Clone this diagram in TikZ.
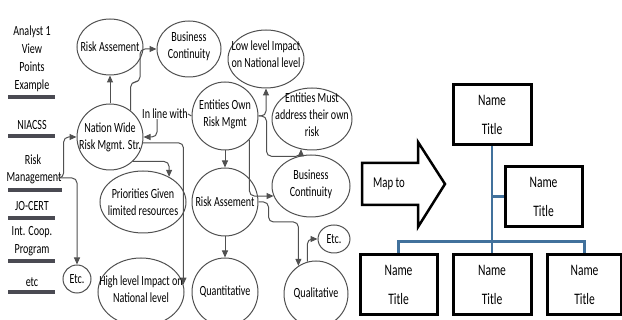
\documentclass[tikz,border=0pt]{standalone}
\usepackage{fontspec}
\setmainfont{Carlito}[FakeStretch=0.72]
\usetikzlibrary{shapes.geometric,arrows.meta}
\definecolor{lg}{HTML}{505050}
\definecolor{barc}{HTML}{4A4A52}
\definecolor{orgblue}{HTML}{41719C}
\begin{document}
\begin{tikzpicture}[x=1pt,y=-1pt,
  font=\fontsize{14}{17}\selectfont,
  ell/.style 2 args={draw=lg, line width=1pt, ellipse, inner sep=0pt, minimum width=#1pt, minimum height=#2pt},
  tx/.style={align=center, inner sep=0pt, text=black},
  col/.style={align=center, inner sep=0pt, text=black, font=\fontsize{14}{18}\selectfont},
  conn/.style={draw=lg, line width=1pt, -{Triangle[length=7pt,width=6pt]}, rounded corners=5pt},
  plainline/.style={draw=lg, line width=1pt},
  bar/.style={draw=barc, line width=4.5pt},
  obox/.style={draw=black, line width=3pt, minimum width=#1pt, minimum height=60pt, inner sep=0pt, align=center, font=\fontsize{16}{29}\selectfont},
  org/.style={draw=orgblue, line width=2.8pt},
]
\useasboundingbox (0,0) rectangle (622,320);

% ---------- left column ----------
\node[col] (a1) at (32,59) {Analyst 1\\View\\Points\\Example};
\draw[bar] (8,97) -- (55,97);
\node[col] (nia) at (32,125) {NIACSS};
\draw[bar] (8,136) -- (55,136);
\node[col] (rm1) at (33,160) {Risk};
\node[col] (rm2) at (34,178) {Management};
\draw[bar] (8,190) -- (62,190);
\node[col] (jo) at (32,206) {JO-CERT};
\draw[bar] (8,218) -- (55,218);
\node[col] (ic) at (32,241) {Int. Coop.\\Program};
\draw[bar] (8,261) -- (55,261);
\node[col] (etcl) at (32,282) {etc};
\draw[bar] (8,292) -- (55,292);

% ---------- ellipses ----------
\node[ell={66}{56}, label={[tx]center:Risk Assement}] (ra1) at (110,47) {};
\node[ell={64}{56}, label={[tx,yshift=3pt]center:Business\\Continuity}] (bc1) at (189,49) {};
\node[ell={76}{58}, label={[tx,yshift=5pt]center:Low level Impact\\on National level}] (low) at (266,59) {};
\node[ell={66}{66}, label={[tx]center:Nation Wide\\Risk Mgmt. Str.}] (nw) at (110,137) {};
\node[ell={66}{68}, label={[tx,yshift=2pt]center:Entities Own\\Risk Mgmt}] (eo) at (225,116) {};
\node[ell={80}{62}, label={[tx,yshift=4pt]center:Entities Must\\address their own\\risk}] (em) at (312,119) {};
\node[ell={78}{62}, label={[tx,yshift=2pt]center:Business\\Continuity}] (bc2) at (311,186) {};
\node[ell={86}{62}, label={[tx]center:Priorities Given\\limited resources}] (pg) at (143,202) {};
\node[ell={66}{68}, label={[tx]center:Risk Assement}] (ra2) at (225,202) {};
\node[ell={32}{28}, label={[tx]center:Etc.}] (etcR) at (334,239) {};
\node[ell={28}{28}, label={[tx]center:Etc.}] (etcL) at (77,279) {};
\node[ell={86}{68}, label={[tx,yshift=3pt]center:High level Impact on\\National level}] (hl) at (141,292) {};
\node[ell={66}{68}, label={[tx]center:Quantitative}] (qn) at (225,292) {};
\node[ell={64}{66}, label={[tx]center:Qualitative}] (ql) at (316,294) {};
\node[tx] (inl) at (165,114) {In line with};

% ---------- connectors ----------
\draw[conn] (nw.north) -- (ra1.south);
\draw[conn] (nw.52) |- (140,82) |- (bc1.west);
\draw[conn] (rm2.east) -- ++(2,0) |- (nw.west);
\draw[conn] (rm2.east) -| (etcL.north);
\draw[conn] ([xshift=-8pt]inl.south) |- (nw.east);
\draw[conn] (nw.-10) -| (hl.10);
\draw[conn] (nw.-47) -| (pg.44);
\draw[plainline] (inl.east) -- (eo.west);
\draw[conn] (eo.east) -| (low.south);
\draw[conn] (eo.east) -- ++(8,0) |- ([yshift=-7pt]em.250) -- (em.250);
\draw[conn] (eo.south) -- (ra2.north);
\draw[conn] (eo.-44) |- (bc2.195);
\draw[conn] (ra2.south) -- (qn.north);
\draw[conn] (ra2.east) -- ++(10,0) -- ++(0,20) -| (ql.122);
\draw[conn] (ql.105) |- (etcR.west);

% ---------- right side ----------
\draw[black, line width=2.5pt, line join=miter]
  (362,163) -- (418,163) -- (418,142) -- (445,184) -- (418,227) -- (418,205) -- (362,205) -- cycle;
\node[tx, font=\fontsize{15}{18}\selectfont] (mapto) at (389,184) {Map to};

\node[obox=78] (top) at (492,114.5) {Name\\Title};
\node[obox=77] (mid) at (543.5,196.5) {Name\\Title};
\node[obox=77] (b1) at (398.5,285) {Name\\Title};
\node[obox=78] (b2) at (492,285) {Name\\Title};
\node[obox=74] (b3) at (584.5,285) {Name\\Title};

\draw[org] (top.south) -- (b2.north);
\draw[org] (top.south |- mid.west) -- (mid.west);
\draw[org] (b1.north) -- ++(0,-12) -| (b3.north);
\end{tikzpicture}
\end{document}
